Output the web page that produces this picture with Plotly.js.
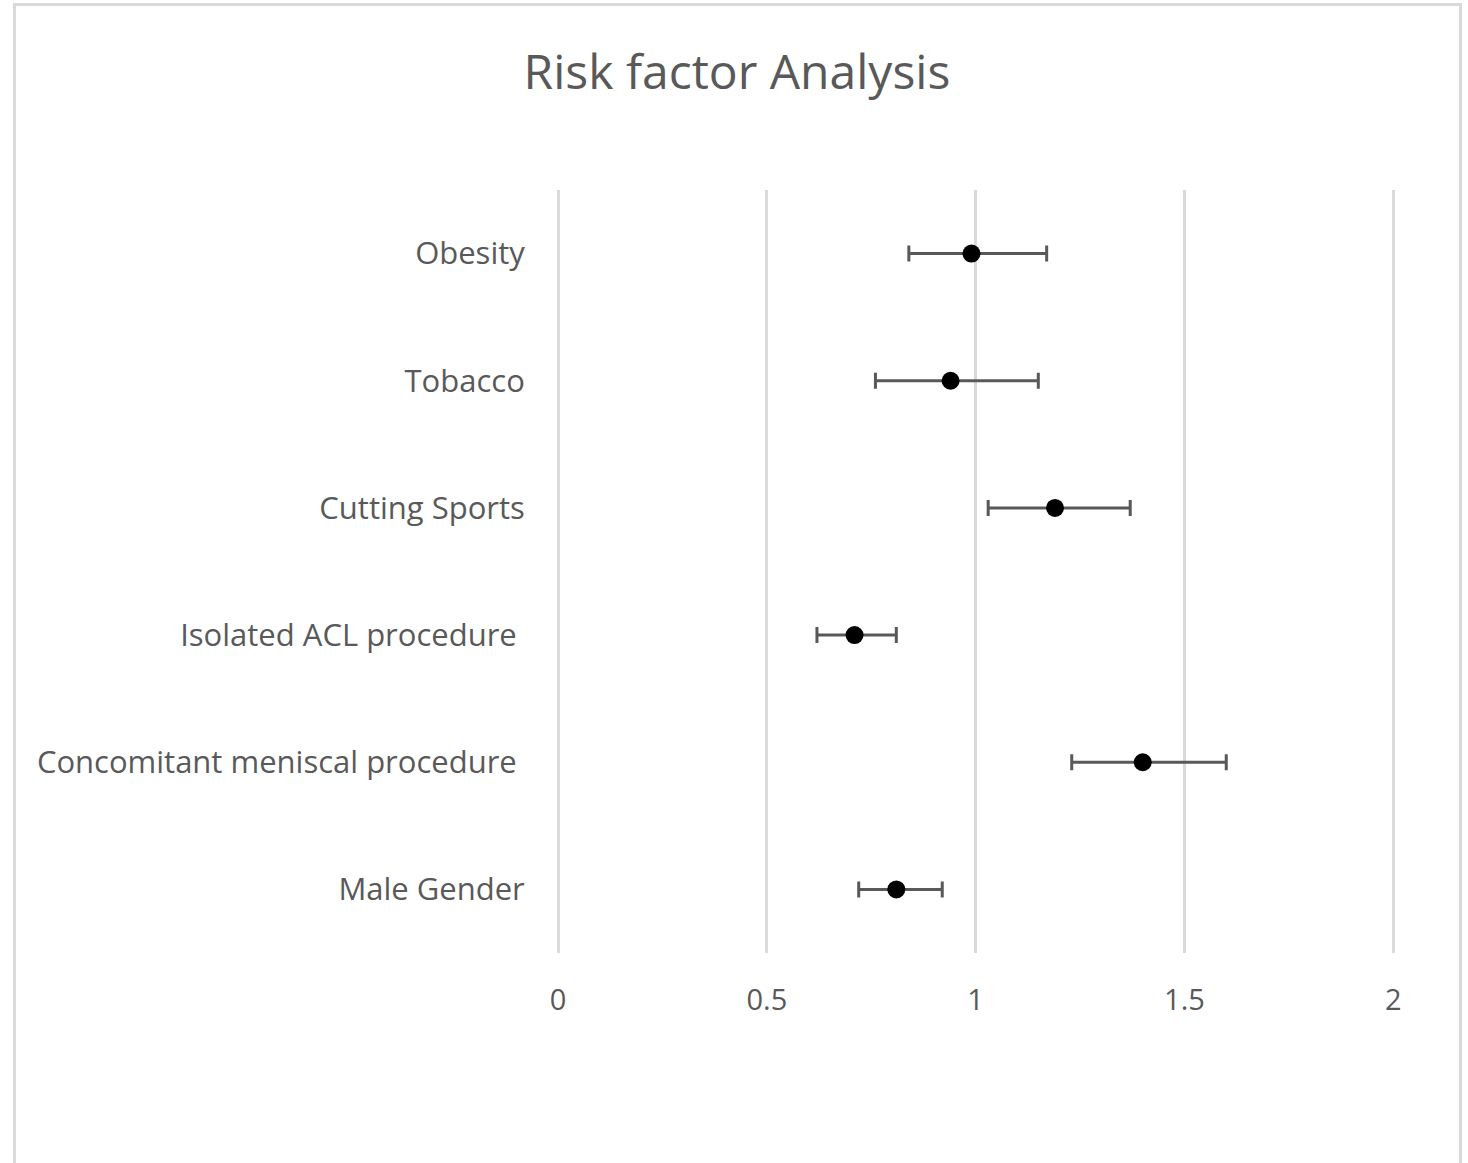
<!DOCTYPE html>
<html>
<head>
<meta charset="utf-8">
<script src="https://cdn.plot.ly/plotly-3.0.1.min.js"></script>
<style>
  html, body { margin: 0; padding: 0; background: #ffffff; }
  #chart { width: 1468px; height: 1163px; }
</style>
</head>
<body>
<div id="chart"></div>
<script>
// Categories listed bottom to top
const categories = [
  'Male Gender',
  'Concomitant meniscal procedure\u00a0',
  'Isolated ACL procedure\u00a0',
  'Cutting Sports',
  'Tobacco',
  'Obesity'
];
const oddsRatio = [0.81, 1.40, 0.71, 1.19, 0.94, 0.99];
const lowerCI   = [0.72, 1.23, 0.62, 1.03, 0.76, 0.84];
const upperCI   = [0.92, 1.60, 0.81, 1.37, 1.15, 1.17];
const xTickVals = [0, 0.5, 1, 1.5, 2];
const xTickText = ['0', '0.5', '1', '1.5', '2'];

const errPlus  = oddsRatio.map((v, i) => upperCI[i] - v);
const errMinus = oddsRatio.map((v, i) => v - lowerCI[i]);

const textColor = '#595959';
const gridColor = '#d9d9d9';
const fontFam = 'Open Sans, sans-serif';

const trace = {
  type: 'scatter',
  mode: 'markers',
  x: oddsRatio,
  y: categories,
  marker: { color: '#000000', size: 18 },
  error_x: {
    type: 'data',
    symmetric: false,
    array: errPlus,
    arrayminus: errMinus,
    color: textColor,
    thickness: 3,
    width: 8
  },
  hoverinfo: 'x+y'
};

const layout = {
  width: 1468,
  height: 1163,
  paper_bgcolor: '#ffffff',
  plot_bgcolor: '#ffffff',
  margin: { l: 558, r: 73, t: 190, b: 210 },
  showlegend: false,
  font: { family: fontFam, color: textColor, size: 31 },
  title: {
    text: 'Risk factor Analysis',
    font: { family: fontFam, size: 48, color: textColor },
    xref: 'container', x: 0.502, xanchor: 'center',
    yref: 'container', y: 0.938, yanchor: 'middle'
  },
  xaxis: {
    range: [0, 2.004],
    tickvals: xTickVals,
    ticktext: xTickText,
    showgrid: true,
    gridcolor: gridColor,
    gridwidth: 3,
    zeroline: true,
    zerolinecolor: gridColor,
    zerolinewidth: 3,
    showline: false,
    ticks: 'outside',
    ticklen: 21,
    tickcolor: 'rgba(0,0,0,0)',
    tickfont: { family: fontFam, size: 29, color: textColor },
    fixedrange: true
  },
  yaxis: {
    type: 'category',
    categoryorder: 'array',
    categoryarray: categories,
    range: [-0.5, 5.5],
    showgrid: false,
    zeroline: false,
    showline: false,
    ticks: 'outside',
    ticklen: 26,
    tickcolor: 'rgba(0,0,0,0)',
    tickfont: { family: fontFam, size: 31, color: textColor },
    fixedrange: true
  },
  shapes: [
    {
      type: 'rect', xref: 'paper', yref: 'paper',
      x0: (14.5 - 558) / 837, x1: (1460.5 - 558) / 837,
      y0: (953 - 1180) / 763, y1: (953 - 4.5) / 763,
      line: { color: gridColor, width: 3 },
      fillcolor: 'rgba(0,0,0,0)',
      layer: 'below'
    }
  ]
};

Plotly.newPlot('chart', [trace], layout, { displayModeBar: false, staticPlot: true });
</script>
</body>
</html>
